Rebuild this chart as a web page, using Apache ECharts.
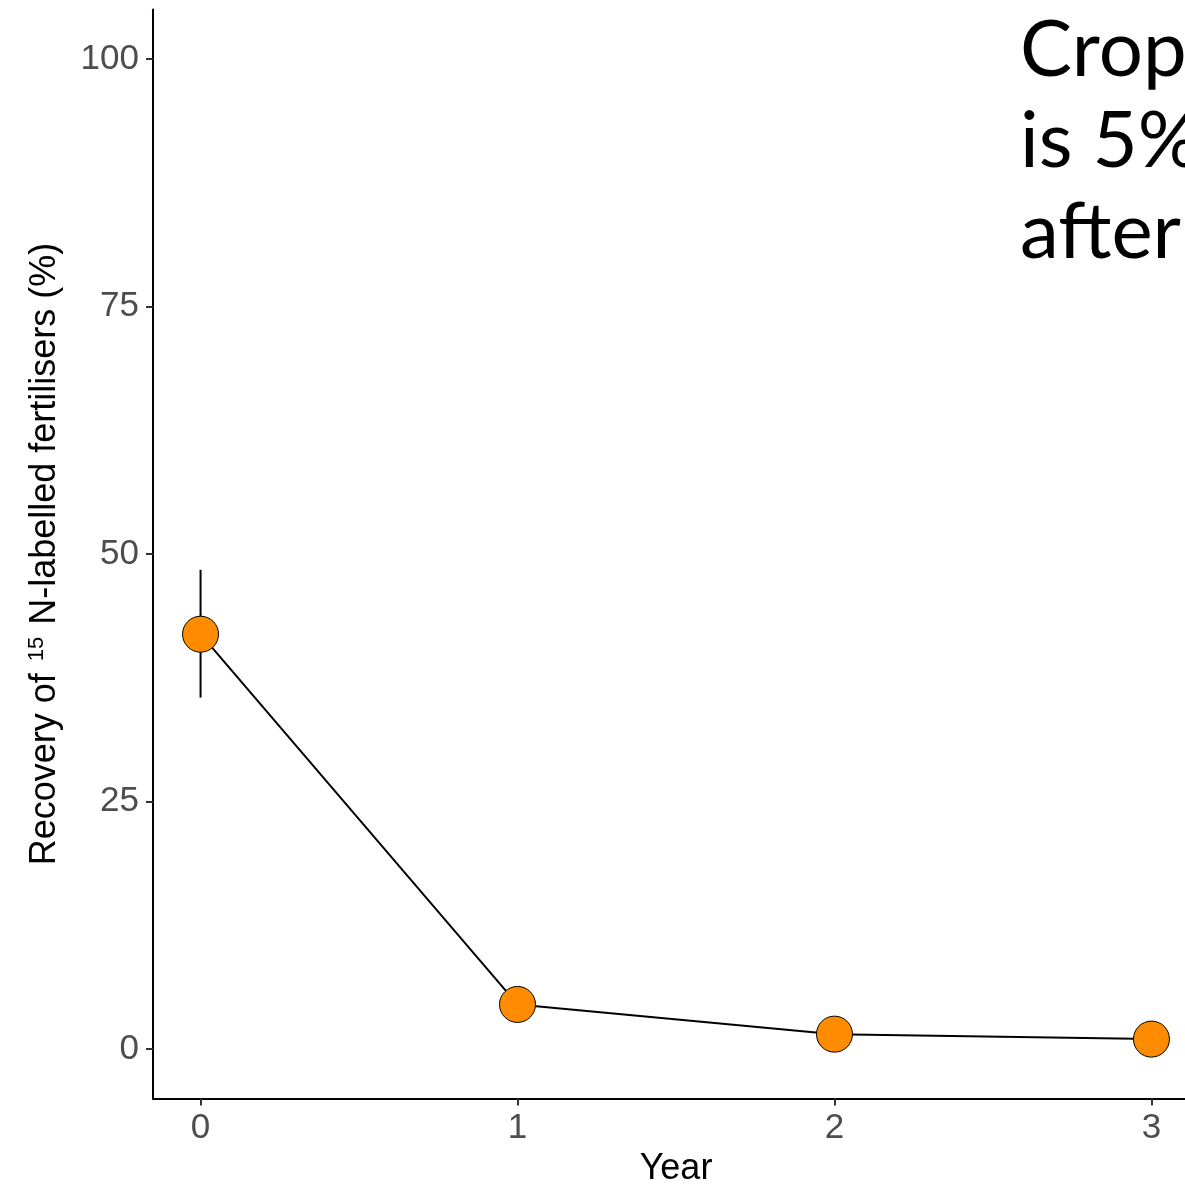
<!DOCTYPE html>
<html>
<head>
<meta charset="utf-8">
<script src="https://cdn.jsdelivr.net/npm/echarts@6/dist/echarts.min.js"></script>
<style>html,body{margin:0;padding:0;background:#fff}#c{width:1185px;height:1188px}</style>
</head>
<body>
<div id="c"></div>
<script>
const years = [0, 1, 2, 3];
const recovery = [41.9, 4.5, 1.5, 1.0];
const errLow = [35.5, 4.5, 1.5, 1.0];
const errHigh = [48.4, 4.5, 1.5, 1.0];
const xTicks = [0, 1, 2, 3];
const yTicks = [0, 25, 50, 75, 100];
const noteLines = ['Crop', 'is 5%', 'after'];

const chart = echarts.init(document.getElementById('c'), null, {renderer: 'canvas'});
const font = 'Liberation Sans, Arial, sans-serif';

const option = {
  animation: false,
  backgroundColor: '#fff',
  grid: {left: 153, top: 9.5, right: -14, bottom: 89.5, containLabel: false, outerBoundsMode: 'none'},
  xAxis: {
    type: 'value', min: -0.15, max: 3.15,
    name: 'Year', nameLocation: 'middle', nameGap: 53,
    nameTextStyle: {fontFamily: font, fontSize: 36, color: '#000'},
    axisLine: {show: true, onZero: false, lineStyle: {color: '#000', width: 2}},
    axisTick: {show: true, length: 7, lineStyle: {color: '#333', width: 2}, customValues: xTicks},
    axisLabel: {fontFamily: font, fontSize: 35, color: '#4D4D4D', margin: 12, customValues: xTicks},
    splitLine: {show: false}
  },
  yAxis: {
    type: 'value', min: -5, max: 105,
    name: '{a|Recovery of }{s|15}{a| N-labelled fertilisers (%)}',
    nameLocation: 'middle', nameGap: 89, nameRotate: 90,
    nameTextStyle: {
      fontFamily: font, fontSize: 36, color: '#000',
      rich: {
        a: {fontFamily: font, fontSize: 36, color: '#000'},
        s: {fontFamily: font, fontSize: 22, color: '#000', verticalAlign: 'top', padding: [0, 2, 16, 2]}
      }
    },
    axisLine: {show: true, onZero: false, lineStyle: {color: '#000', width: 2}},
    axisTick: {show: true, length: 7, lineStyle: {color: '#333', width: 2}, customValues: yTicks},
    axisLabel: {fontFamily: font, fontSize: 35, color: '#4D4D4D', margin: 14, customValues: yTicks},
    splitLine: {show: false}
  },
  series: [
    {
      type: 'custom',
      data: years.map((y, i) => [y, errLow[i], errHigh[i]]),
      renderItem: function (params, api) {
        const p1 = api.coord([api.value(0), api.value(1)]);
        const p2 = api.coord([api.value(0), api.value(2)]);
        return {type: 'line', shape: {x1: p1[0], y1: p1[1], x2: p2[0], y2: p2[1]}, style: {stroke: '#000', lineWidth: 2}};
      },
      z: 1
    },
    {
      type: 'line',
      data: years.map((y, i) => [y, recovery[i]]),
      symbol: 'circle', symbolSize: 36,
      lineStyle: {color: '#000', width: 2},
      itemStyle: {color: '#FF8C00', borderColor: '#000', borderWidth: 1},
      z: 2
    }
  ],
  graphic: noteLines.map((t, i) => ({
    type: 'text', left: 1020, top: 12 + i * 91,
    style: {text: t, fontFamily: 'Lato', fontSize: 78, fill: '#000'}
  }))
};
chart.setOption(option);
</script>
</body>
</html>
